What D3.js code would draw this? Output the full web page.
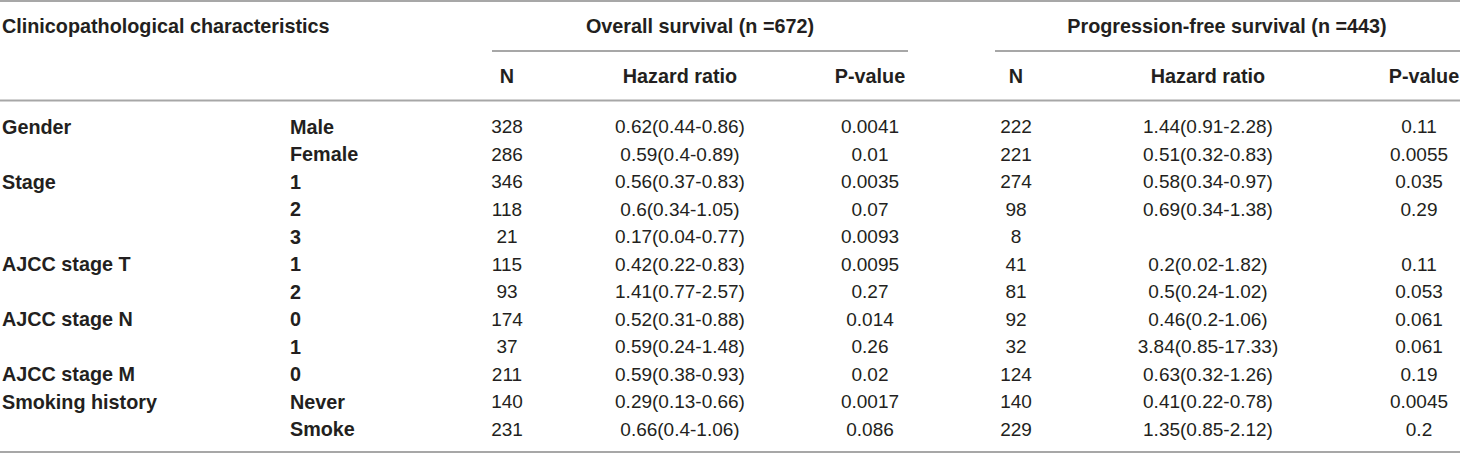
<!DOCTYPE html>
<html><head><meta charset="utf-8">
<script src="https://cdn.jsdelivr.net/npm/d3@7"></script>
<style>
html,body{margin:0;padding:0;background:#fff;}
svg{display:block;}
text{font-family:"Liberation Sans",Arial,Helvetica,sans-serif;fill:#231f20;}
</style></head>
<body><svg id="c" width="1460" height="453"></svg>
<script>
const groupLabels = ["Gender","","Stage","","","AJCC stage T","","AJCC stage N","","AJCC stage M","Smoking history",""];
const subLabels = ["Male","Female","1","2","3","1","2","0","1","0","Never","Smoke"];
const osN = ["328","286","346","118","21","115","93","174","37","211","140","231"];
const osHR = ["0.62(0.44-0.86)","0.59(0.4-0.89)","0.56(0.37-0.83)","0.6(0.34-1.05)","0.17(0.04-0.77)","0.42(0.22-0.83)","1.41(0.77-2.57)","0.52(0.31-0.88)","0.59(0.24-1.48)","0.59(0.38-0.93)","0.29(0.13-0.66)","0.66(0.4-1.06)"];
const osP = ["0.0041","0.01","0.0035","0.07","0.0093","0.0095","0.27","0.014","0.26","0.02","0.0017","0.086"];
const pfsN = ["222","221","274","98","8","41","81","92","32","124","140","229"];
const pfsHR = ["1.44(0.91-2.28)","0.51(0.32-0.83)","0.58(0.34-0.97)","0.69(0.34-1.38)","","0.2(0.02-1.82)","0.5(0.24-1.02)","0.46(0.2-1.06)","3.84(0.85-17.33)","0.63(0.32-1.26)","0.41(0.22-0.78)","1.35(0.85-2.12)"];
const pfsP = ["0.11","0.0055","0.035","0.29","","0.11","0.053","0.061","0.061","0.19","0.0045","0.2"];
const title = "Clinicopathological characteristics";
const spanTitles = ["Overall survival (n =672)","Progression-free survival (n =443)"];
const colHeads = ["N","Hazard ratio","P-value"];

const svg = d3.select("#c");
const W = 1460, FS = 19, FSB = 19.8;
const lineCol = "#a7a7a7";
const y = d3.scaleLinear().domain([0, subLabels.length-1]).range([126.8, 429.3]);

const rules = [
  {x1:0,x2:W,y:1},
  {x1:492,x2:908,y:51},
  {x1:995,x2:W,y:51},
  {x1:0,x2:W,y:100.5},
  {x1:0,x2:W,y:452}
];
svg.selectAll("line.r").data(rules).join("line")
  .attr("x1",d=>d.x1).attr("x2",d=>d.x2).attr("y1",d=>d.y).attr("y2",d=>d.y)
  .attr("stroke",lineCol).attr("stroke-width",2);

function txt(x,yy,s,anchor,bold){
  svg.append("text").attr("x",x).attr("y",yy).attr("dy","0.35em")
    .attr("text-anchor",anchor).attr("font-size",bold?FSB:FS)
    .attr("font-weight",bold?"bold":"normal").text(s);
}
txt(2,26.5,title,"start",true);
txt(700,26,spanTitles[0],"middle",true);
txt(1227,26,spanTitles[1],"middle",true);
const osX = [507,680,870];
const pfsX = [1016,1208,1419];
const pfsHX = [1016,1208,1424];
colHeads.forEach((h,i)=>{ txt(osX[i],76.5,h,"middle",true); txt(pfsHX[i],76.5,h,"middle",true); });

const rows = subLabels.map((s,i)=>({i, g:groupLabels[i], s, cols:[osN[i],osHR[i],osP[i],pfsN[i],pfsHR[i],pfsP[i]]}));
const colX = osX.concat(pfsX);
const gRow = svg.selectAll("g.row").data(rows).join("g").attr("transform",d=>`translate(0,${y(d.i)})`);
gRow.append("text").attr("x",2).attr("dy","0.35em").attr("font-size",FSB).attr("font-weight","bold").text(d=>d.g);
gRow.append("text").attr("x",290).attr("dy","0.35em").attr("font-size",FSB).attr("font-weight","bold").text(d=>d.s);
gRow.selectAll("text.v").data(d=>d.cols.map((v,j)=>({v,j}))).join("text").attr("class","v")
  .attr("x",d=>colX[d.j]).attr("dy","0.35em").attr("text-anchor","middle").attr("font-size",FS).text(d=>d.v);
</script></body></html>
